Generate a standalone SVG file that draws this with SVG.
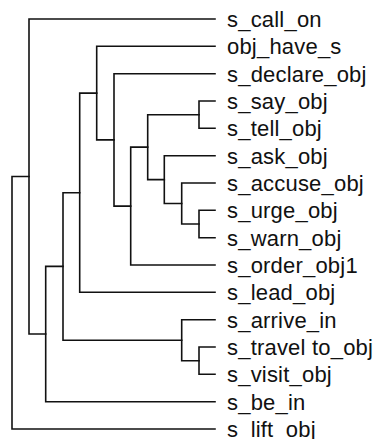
<svg xmlns="http://www.w3.org/2000/svg" width="374" height="439" viewBox="0 0 374 439">
  <style>
    .link { fill: none; stroke: #111; stroke-width: 1.6; stroke-linecap: square; }
    .label { font-family: "Liberation Sans", Arial, sans-serif; font-size: 22px; letter-spacing: 0.2px; fill: #111; }
  </style>
  <rect width="374" height="439" fill="#fff"/>

  <!-- dendrogram links: each path joins two children through their merge point -->
  <g id="connectors">
    <path class="link" d="M215 101 H199 V128.3 H215"/>
    <path class="link" d="M215 210.3 H199 V237.7 H215"/>
    <path class="link" d="M215 183 H181.7 V224 H199"/>
    <path class="link" d="M215 155.7 H164.3 V203.5 H181.7"/>
    <path class="link" d="M199 114.7 H147.7 V179.6 H164.3"/>
    <path class="link" d="M147.7 147.1 H130.7 V265 H215"/>
    <path class="link" d="M215 73.7 H114 V206.1 H130.7"/>
    <path class="link" d="M215 46.3 H96.7 V139.9 H114"/>
    <path class="link" d="M96.7 93.1 H79.7 V292.3 H215"/>
    <path class="link" d="M215 347 H199 V374.3 H215"/>
    <path class="link" d="M215 319.7 H181.7 V360.7 H199"/>
    <path class="link" d="M79.7 192.7 H63 V340.2 H181.7"/>
    <path class="link" d="M63 266.4 H45.7 V401.7 H215"/>
    <path class="link" d="M215 19 H29 V334 H45.7"/>
    <path class="link" d="M29 176.5 H12 V429 H215"/>
  </g>

  <!-- leaves -->
  <g id="leaf-s_call_on"><text class="label" x="227" y="27">s_call_on</text></g>
  <g id="leaf-obj_have_s"><text class="label" x="227" y="54.3">obj_have_s</text></g>
  <g id="leaf-s_declare_obj"><text class="label" x="227" y="81.7">s_declare_obj</text></g>
  <g id="leaf-s_say_obj"><text class="label" x="227" y="109">s_say_obj</text></g>
  <g id="leaf-s_tell_obj"><text class="label" x="227" y="136.3">s_tell_obj</text></g>
  <g id="leaf-s_ask_obj"><text class="label" x="227" y="163.7">s_ask_obj</text></g>
  <g id="leaf-s_accuse_obj"><text class="label" x="227" y="191">s_accuse_obj</text></g>
  <g id="leaf-s_urge_obj"><text class="label" x="227" y="218.3">s_urge_obj</text></g>
  <g id="leaf-s_warn_obj"><text class="label" x="227" y="245.7">s_warn_obj</text></g>
  <g id="leaf-s_order_obj1"><text class="label" x="227" y="273">s_order_obj1</text></g>
  <g id="leaf-s_lead_obj"><text class="label" x="227" y="300.3">s_lead_obj</text></g>
  <g id="leaf-s_arrive_in"><text class="label" x="227" y="327.7">s_arrive_in</text></g>
  <g id="leaf-s_travel_to_obj"><text class="label" x="227" y="355">s_travel to_obj</text></g>
  <g id="leaf-s_visit_obj"><text class="label" x="227" y="382.3">s_visit_obj</text></g>
  <g id="leaf-s_be_in"><text class="label" x="227" y="409.7">s_be_in</text></g>
  <g id="leaf-s_lift_obj"><text class="label" x="227" y="437">s_lift_obj</text></g>
</svg>
